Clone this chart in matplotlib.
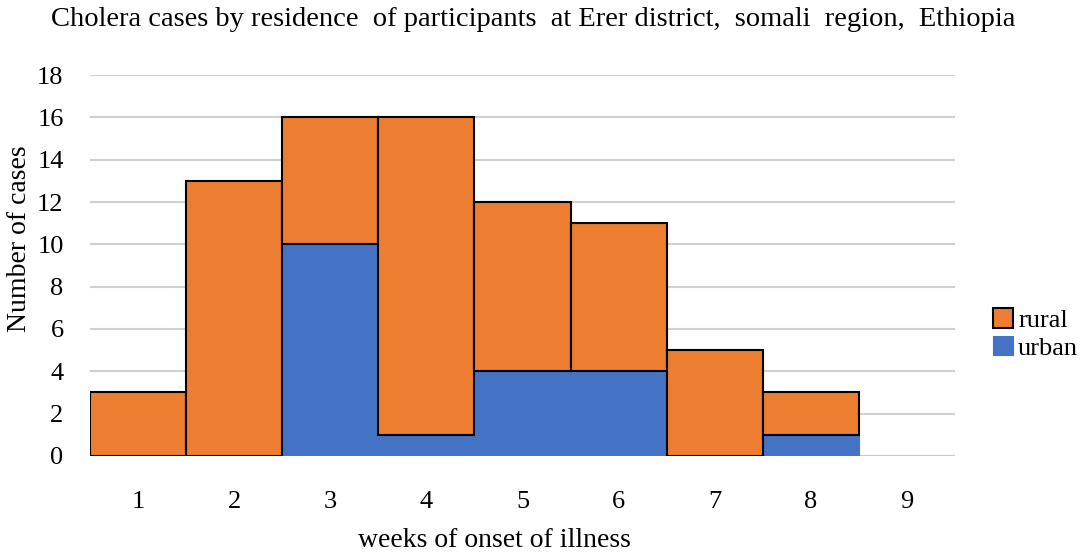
import matplotlib.pyplot as plt
import numpy as np

weeks = ['1', '2', '3', '4', '5', '6', '7', '8', '9']
urban = [0, 0, 10, 1, 4, 4, 0, 1, 0]
rural = [3, 13, 6, 15, 8, 7, 5, 2, 0]
y_ticks = [0, 2, 4, 6, 8, 10, 12, 14, 16, 18]

plt.rcParams['font.family'] = ['Liberation Serif', 'DejaVu Serif']

fig = plt.figure(figsize=(10.84, 5.52), dpi=100)
ax = fig.add_axes([0.083, 0.174, 0.798, 0.690])

x = np.arange(1, len(weeks) + 1)
# no outline on empty bars
rural_lw = [1.5 if (u + r) > 0 else 0 for u, r in zip(urban, rural)]

# urban at the bottom, rural stacked on top
ax.bar(x, urban, width=1.0, color='#4472c4', edgecolor='#4472c4',
       linewidth=0.8, label='urban', zorder=3)
ax.bar(x, rural, width=1.0, bottom=urban, color='#ed7d31',
       edgecolor='black', linewidth=rural_lw, label='rural', zorder=3)

ax.set_xlim(0.5, 9.5)
ax.set_ylim(0, 18)
ax.set_xticks(x)
ax.set_xticklabels(weeks)
ax.set_yticks(y_ticks)
ax.tick_params(axis='both', length=0, labelsize=19, colors='black')
ax.tick_params(axis='x', pad=25)
ax.tick_params(axis='y', pad=19)
ax.grid(axis='y', color='#d0d0d0', linewidth=1.5, zorder=0)
for s in ax.spines.values():
    s.set_visible(False)

ax.set_xlabel('weeks of onset of illness', fontsize=20)
ax.xaxis.set_label_coords(0.468, -0.19)
ax.set_ylabel('Number of cases', fontsize=20)
ax.yaxis.set_label_coords(-0.067, 0.57)
fig.suptitle('Cholera cases by residence  of participants  at Erer district,  somali  region,  Ethiopia',
             fontsize=20.5, x=0.492, y=0.988)

handles, labels = ax.get_legend_handles_labels()
ax.legend(handles[::-1], labels[::-1], loc='center left',
          bbox_to_anchor=(1.044, 0.32), frameon=False, fontsize=19,
          handlelength=0.75, handleheight=0.75, handletextpad=0.2,
          labelspacing=0.15, borderpad=0, borderaxespad=0)

fig.savefig('out.png', dpi=100)
